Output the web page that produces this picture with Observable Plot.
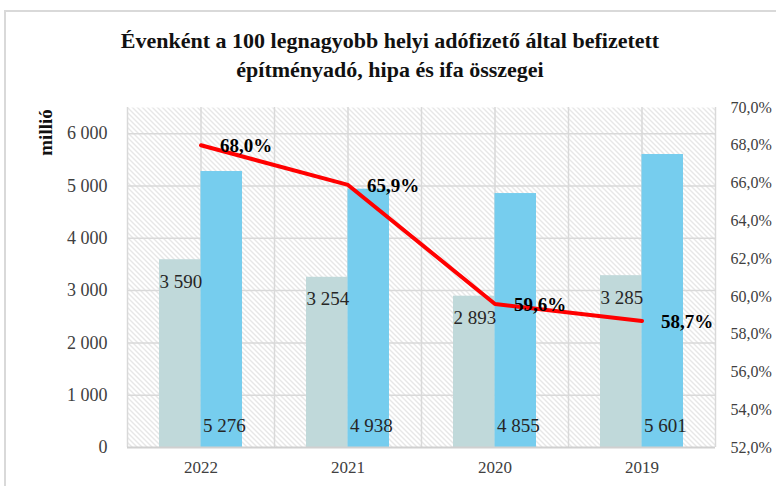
<!DOCTYPE html>
<html>
<head>
<meta charset="utf-8">
<script src="https://cdn.jsdelivr.net/npm/d3@7"></script>
<script src="https://cdn.jsdelivr.net/npm/@observablehq/plot@0.6"></script>
<style>
  html, body { margin: 0; padding: 0; background: #fff; overflow: hidden; }
  #wrap { position: relative; width: 776px; height: 486px; overflow: hidden; }
  #border { position: absolute; left: 4px; top: 10px; width: 900px; height: 600px; border: 2px solid #d9d9d9; box-sizing: border-box; }
  #title { position: absolute; left: 0; top: 26px; width: 780px; text-align: center; font-family: "Liberation Serif", serif; font-weight: bold; font-size: 22px; line-height: 29px; color: #111; }
  #chart { position: absolute; left: 0; top: 0; }
</style>
</head>
<body>
<div id="wrap">
  <div id="border"></div>
  <div id="chart"></div>
  <div id="title">Évenként a 100 legnagyobb helyi adófizető által befizetett<br>építményadó, hipa és ifa összegei</div>
</div>
<script>
const years = ["2022", "2021", "2020", "2019"];
const greyValues = [3590, 3254, 2893, 3285];
const blueValues = [5276, 4938, 4855, 5601];
const sharePct = [68.0, 65.9, 59.6, 58.7];
const leftTicks = [0, 1000, 2000, 3000, 4000, 5000, 6000];
const rightTicks = [52, 54, 56, 58, 60, 62, 64, 66, 68, 70];
const leftDomain = [0, 6500];
const rightDomain = [52, 70];

const loc = d3.formatLocale({decimal: ",", thousands: " ", grouping: [3], currency: ["", ""]});
const fmtNum = loc.format(",d");
const fmtPct = v => loc.format(".1f")(v) + "%";
// map right-axis percent onto the left scale's domain
const toLeft = p => leftDomain[0] + (p - rightDomain[0]) / (rightDomain[1] - rightDomain[0]) * (leftDomain[1] - leftDomain[0]);

const bars = years.map((y, i) => ({year: y, grey: greyValues[i], blue: blueValues[i], pct: sharePct[i], pctY: toLeft(sharePct[i])}));

const bandW = 147;
const half = bandW / 2;
const barW = 41.5;

const plot = Plot.plot({
  width: 776,
  height: 486,
  marginLeft: 127,
  marginRight: 61,
  marginTop: 107,
  marginBottom: 39,
  style: {fontFamily: "Liberation Serif, serif", background: "transparent"},
  x: {domain: years, padding: 0, axis: null, label: null},
  y: {domain: leftDomain, axis: null, label: null},
  marks: [
    Plot.frame({fill: "url(#hatch)", stroke: null}),
    Plot.ruleY(leftTicks.filter(d => d > 0), {stroke: "#d9d9d9", strokeWidth: 1.5}),
    Plot.ruleX(years, {x: d => d, dx: -half, stroke: "#d9d9d9", strokeWidth: 1.5}),
    Plot.ruleX(years, {x: d => d, stroke: "#d9d9d9", strokeWidth: 1.5}),
    Plot.ruleX([years[years.length - 1]], {x: d => d, dx: half, stroke: "#d9d9d9", strokeWidth: 1.5}),
    Plot.barY(bars, {x: "year", y: "grey", fill: "#c0d9da", insetLeft: half - barW, insetRight: half}),
    Plot.barY(bars, {x: "year", y: "blue", fill: "#76cdee", insetLeft: half, insetRight: half - barW}),
    Plot.ruleY([0], {stroke: "#d0d0d0", strokeWidth: 2}),
    Plot.line(bars, {x: "year", y: "pctY", stroke: "#ff0000", strokeWidth: 4, strokeLinejoin: "round"}),
    Plot.text(bars, {x: "year", y: "grey", text: d => fmtNum(d.grey), dx: -barW, dy: 22, textAnchor: "start", lineAnchor: "middle", fontSize: 19, fill: "#262626"}),
    Plot.text(bars, {x: "year", frameAnchor: "bottom", text: d => fmtNum(d.blue), dx: 2, dy: -22, textAnchor: "start", lineAnchor: "middle", fontSize: 19, fill: "#262626"}),
    Plot.text(bars, {x: "year", y: "pctY", text: d => fmtPct(d.pct), dx: 19, dy: 1, textAnchor: "start", lineAnchor: "middle", fontSize: 19, fontWeight: "bold", fill: "#000"}),
    Plot.axisY({ticks: leftTicks, tickFormat: fmtNum, tickSize: 0, tickPadding: 20, fontSize: 18, fill: "#404040", label: null}),
    Plot.axisY({anchor: "right", ticks: rightTicks.map(toLeft), tickFormat: (v, i) => fmtPct(rightTicks[i]), tickSize: 0, tickPadding: 15, fontSize: 16, fill: "#404040", textAnchor: "start", label: null}),
    Plot.axisX({tickSize: 0, tickPadding: 13, fontSize: 17, fill: "#404040", label: null}),
    Plot.text(["millió"], {frameAnchor: "top-left", dx: -82, dy: 25, rotate: -90, textAnchor: "middle", lineAnchor: "middle", fontSize: 19, fontWeight: "bold", fill: "#111"})
  ]
});

d3.select(plot).insert("defs", ":first-child").html(
  '<pattern id="hatch" patternUnits="userSpaceOnUse" width="5" height="5">' +
  '<rect width="5" height="5" fill="#ffffff"/>' +
  '<path d="M-1,-1 L6,6 M-1,4 L1,6 M4,-1 L6,1" stroke="#cfcfcf" stroke-width="1"/>' +
  '</pattern>'
);

document.getElementById("chart").appendChild(plot);
</script>
</body>
</html>
